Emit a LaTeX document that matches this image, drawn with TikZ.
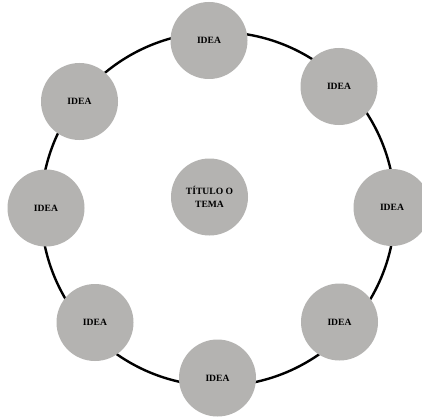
\documentclass[tikz,border=0pt]{standalone}
\usepackage{fontspec}
\setmainfont{Liberation Serif}
\definecolor{bubble}{RGB}{180,179,177}
\begin{document}
\begin{tikzpicture}[x=1pt,y=-1pt,
  bubblenode/.style={circle, fill=bubble, minimum size=77pt, inner sep=0pt,
    font=\fontsize{9.6}{13.5}\selectfont\bfseries, align=center, text=black},
  ring/.style={line width=2.4pt, black}]
\useasboundingbox (0,0) rectangle (422,417);
\clip (0,0) rectangle (422,417);
\fill[white] (0,0) rectangle (422,417);
% the ring that links the ideas
\draw[ring] (218,209) circle[radius=177pt];
% ideas around the ring
\node[bubblenode] (top)        at (209,40.5)  {IDEA};
\node[bubblenode] (topright)   at (339,86.5)  {IDEA};
\node[bubblenode] (right)      at (392,207.5) {IDEA};
\node[bubblenode] (botright)   at (339.5,322) {IDEA};
\node[bubblenode] (bottom)     at (217.5,378) {IDEA};
\node[bubblenode] (botleft)    at (95,322.5)  {IDEA};
\node[bubblenode] (left)       at (46,208)    {IDEA};
\node[bubblenode] (topleft)    at (79.5,101.5){IDEA};
% central topic
\node[bubblenode] (title)      at (209.5,197) {TÍTULO O\\TEMA};
\end{tikzpicture}
\end{document}
